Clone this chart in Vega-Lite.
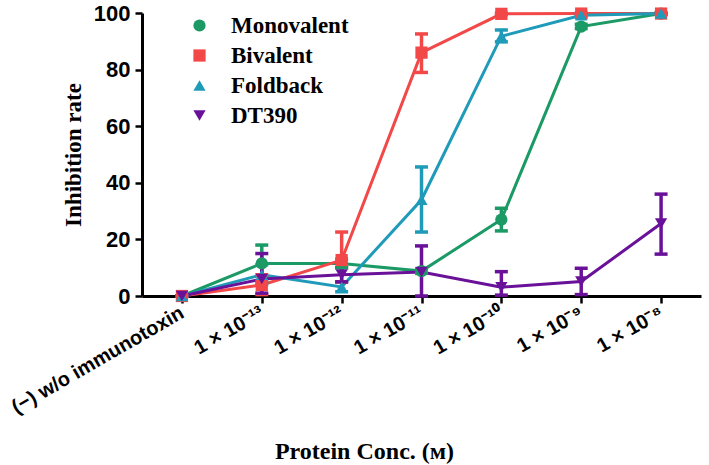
{
  "$schema": "https://vega.github.io/schema/vega-lite/v6.json",
  "width": 559,
  "height": 283,
  "autosize": "none",
  "padding": {"left": 142, "top": 13, "right": 8, "bottom": 169},
  "background": "white",
  "config": {
    "view": {"stroke": null},
    "axis": {"grid": false, "domainColor": "black", "domainWidth": 3, "tickColor": "black", "tickWidth": 2.5, "tickSize": 7, "labelColor": "black", "titleColor": "black"}
  },
  "data": {
    "values": [
      {"series": "Monovalent", "conc": "(−) w/o immunotoxin", "mean": 0, "lo": 0, "hi": 0},
      {"series": "Monovalent", "conc": "1 × 10⁻¹³", "mean": 11.5, "lo": 5, "hi": 18},
      {"series": "Monovalent", "conc": "1 × 10⁻¹²", "mean": 11.5, "lo": 10, "hi": 13},
      {"series": "Monovalent", "conc": "1 × 10⁻¹¹", "mean": 8.8, "lo": 8, "hi": 9.6},
      {"series": "Monovalent", "conc": "1 × 10⁻¹⁰", "mean": 27, "lo": 23, "hi": 31},
      {"series": "Monovalent", "conc": "1 × 10⁻⁹", "mean": 95.2, "lo": 94.5, "hi": 96},
      {"series": "Monovalent", "conc": "1 × 10⁻⁸", "mean": 99.8, "lo": 99.5, "hi": 100},
      {"series": "Bivalent", "conc": "(−) w/o immunotoxin", "mean": 0, "lo": 0, "hi": 0},
      {"series": "Bivalent", "conc": "1 × 10⁻¹³", "mean": 3.9, "lo": 0.5, "hi": 7.5},
      {"series": "Bivalent", "conc": "1 × 10⁻¹²", "mean": 12.7, "lo": 5, "hi": 22.6},
      {"series": "Bivalent", "conc": "1 × 10⁻¹¹", "mean": 86, "lo": 79, "hi": 92.6},
      {"series": "Bivalent", "conc": "1 × 10⁻¹⁰", "mean": 99.7, "lo": 99.4, "hi": 100},
      {"series": "Bivalent", "conc": "1 × 10⁻⁹", "mean": 99.8, "lo": 99.6, "hi": 100},
      {"series": "Bivalent", "conc": "1 × 10⁻⁸", "mean": 99.8, "lo": 99.6, "hi": 100},
      {"series": "Foldback", "conc": "(−) w/o immunotoxin", "mean": 0, "lo": 0, "hi": 0},
      {"series": "Foldback", "conc": "1 × 10⁻¹³", "mean": 7.5, "lo": 4, "hi": 11},
      {"series": "Foldback", "conc": "1 × 10⁻¹²", "mean": 3.2, "lo": 1.5, "hi": 5},
      {"series": "Foldback", "conc": "1 × 10⁻¹¹", "mean": 34, "lo": 22.6, "hi": 45.6},
      {"series": "Foldback", "conc": "1 × 10⁻¹⁰", "mean": 91.8, "lo": 89.8, "hi": 94},
      {"series": "Foldback", "conc": "1 × 10⁻⁹", "mean": 99.2, "lo": 98.6, "hi": 99.8},
      {"series": "Foldback", "conc": "1 × 10⁻⁸", "mean": 99.8, "lo": 99.6, "hi": 100},
      {"series": "DT390", "conc": "(−) w/o immunotoxin", "mean": 0, "lo": 0, "hi": 0},
      {"series": "DT390", "conc": "1 × 10⁻¹³", "mean": 6, "lo": 1, "hi": 15},
      {"series": "DT390", "conc": "1 × 10⁻¹²", "mean": 7.5, "lo": 5, "hi": 10},
      {"series": "DT390", "conc": "1 × 10⁻¹¹", "mean": 8.5, "lo": 0, "hi": 17.7},
      {"series": "DT390", "conc": "1 × 10⁻¹⁰", "mean": 3.1, "lo": 0.3, "hi": 8.6},
      {"series": "DT390", "conc": "1 × 10⁻⁹", "mean": 5.1, "lo": 0.5, "hi": 9.8},
      {"series": "DT390", "conc": "1 × 10⁻⁸", "mean": 25.6, "lo": 14.8, "hi": 36}
    ]
  },
  "encoding": {
    "x": {
      "field": "conc", "type": "ordinal",
      "sort": ["(−) w/o immunotoxin", "1 × 10⁻¹³", "1 × 10⁻¹²", "1 × 10⁻¹¹", "1 × 10⁻¹⁰", "1 × 10⁻⁹", "1 × 10⁻⁸"],
      "scale": {"type": "point", "padding": 0.5},
      "axis": {
        "title": "Protein Conc. (ᴍ)", "titleFont": "Liberation Serif", "titleFontSize": 24, "titleFontWeight": "bold",
        "titleX": 222, "titleY": 162, "titleAlign": "center", "titleBaseline": "alphabetic", "titleAnchor": null,
        "labelAngle": -30, "labelFont": "Liberation Sans", "labelFontSize": 20, "labelFontWeight": "bold", "labelPadding": 8,
        "labelAlign": "right", "labelBaseline": "middle", "labelLimit": 0
      }
    },
    "color": {
      "field": "series", "type": "nominal",
      "scale": {"domain": ["Monovalent", "Bivalent", "Foldback", "DT390"], "range": ["#1b9a66", "#f24848", "#1f9bb9", "#6a119a"]}
    }
  },
  "layer": [
    {
      "mark": {"type": "line", "strokeWidth": 3},
      "encoding": {
        "y": {"field": "mean", "type": "quantitative"}
      }
    },
    {
      "mark": {"type": "rule", "strokeWidth": 3.5},
      "encoding": {
        "y": {"field": "lo", "type": "quantitative"},
        "y2": {"field": "hi"}
      }
    },
    {
      "mark": {"type": "tick", "thickness": 3.5, "size": 13, "orient": "horizontal", "opacity": 1},
      "encoding": {"y": {"field": "hi", "type": "quantitative"}}
    },
    {
      "mark": {"type": "tick", "thickness": 3.5, "size": 13, "orient": "horizontal", "opacity": 1},
      "encoding": {"y": {"field": "lo", "type": "quantitative"}}
    },
    {
      "mark": {"type": "point", "filled": true, "opacity": 1, "size": 150},
      "encoding": {
        "y": {
          "field": "mean", "type": "quantitative",
          "scale": {"domain": [0, 100], "nice": false},
          "axis": {
            "values": [0, 20, 40, 60, 80, 100], "title": "Inhibition rate",
            "titleFont": "Liberation Serif", "titleFontSize": 23, "titleFontWeight": "bold", "titlePadding": 8,
            "labelFont": "Liberation Sans", "labelFontSize": 22, "labelFontWeight": "bold", "labelPadding": 5
          }
        },
        "shape": {
          "field": "series", "type": "nominal",
          "scale": {"domain": ["Monovalent", "Bivalent", "Foldback", "DT390"], "range": ["circle", "square", "triangle-up", "triangle-down"]}
        },
        "color": {
          "field": "series", "type": "nominal",
          "legend": {
            "title": null, "orient": "none", "legendX": 46, "legendY": 1,
            "labelFont": "Liberation Serif", "labelFontSize": 23, "labelFontWeight": "bold", "labelColor": "black",
            "symbolSize": 150, "rowPadding": 6, "labelOffset": 20, "symbolOpacity": 1, "symbolStrokeWidth": 0
          }
        }
      }
    }
  ]
}
